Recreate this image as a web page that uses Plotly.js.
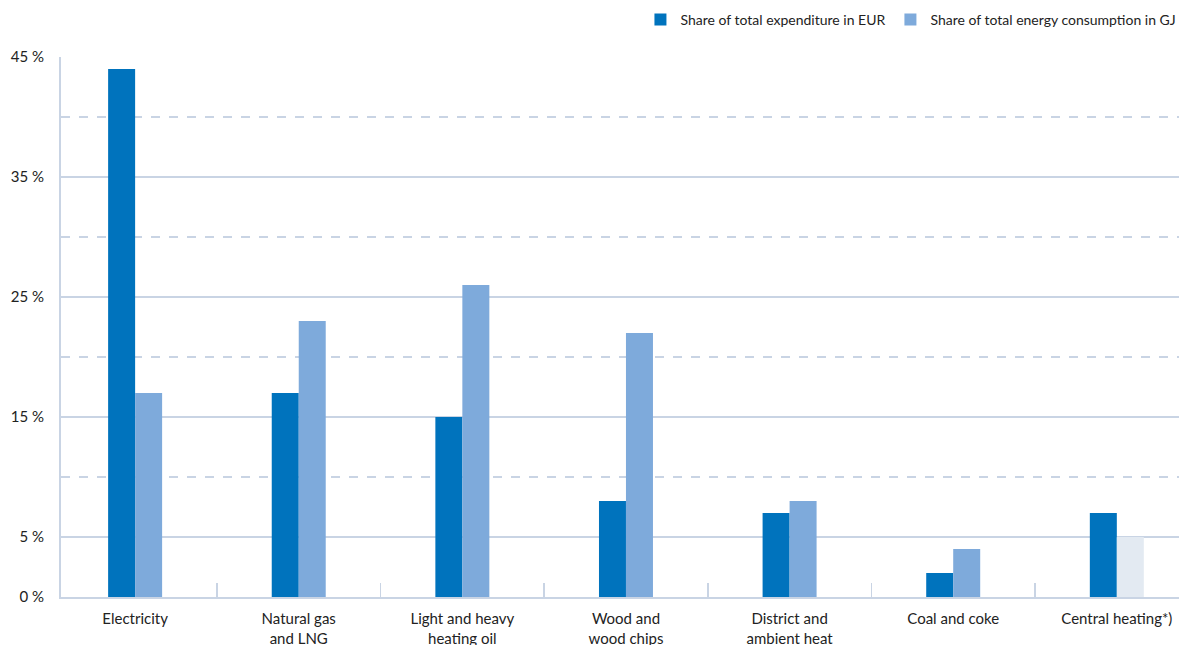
<!DOCTYPE html>
<html>
<head>
<meta charset="utf-8">
<script src="https://cdn.plot.ly/plotly-3.0.1.min.js"></script>
<style>html,body{margin:0;padding:0;background:#fff;}#chart{width:1185px;height:645px;}</style>
</head>
<body>
<div id="chart"></div>
<script>
const categories = ["Electricity", "Natural gas<br>and LNG", "Light and heavy<br>heating oil", "Wood and<br>wood chips", "District and<br>ambient heat", "Coal and coke", "Central heating*)"];
const expenditureShare = [44, 17, 15, 8, 7, 2, 7];
const energyShare = [17, 23, 26, 22, 8, 4, 5];
const energyColors = ["#7eaadb", "#7eaadb", "#7eaadb", "#7eaadb", "#7eaadb", "#7eaadb", "#e3eaf2"];
const yTickVals = [0, 5, 15, 25, 35, 45];
const yTickText = ["0 %", "5 %", "15 %", "25 %", "35 %", "45 %"];
const yMinorVals = [10, 20, 30, 40];

const gridColor = "#c9d4e4";
const font = "Lato, 'Open Sans', 'DejaVu Sans', sans-serif";

const traces = [
  {type: "bar", name: "Share of total expenditure in EUR", x: categories, y: expenditureShare,
   marker: {color: "#0073bd"}, hoverinfo: "none"},
  {type: "bar", name: "Share of total energy consumption in GJ", x: categories, y: energyShare,
   marker: {color: energyColors}, hoverinfo: "none"}
];

const layout = {
  width: 1185, height: 645,
  margin: {l: 61, r: 6, t: 57, b: 48, pad: 0},
  paper_bgcolor: "#fff", plot_bgcolor: "#fff",
  font: {family: font, size: 15, color: "#222"},
  barmode: "group", bargap: 0.67, bargroupgap: 0,
  showlegend: true,
  legend: {orientation: "h", xref: "container", yref: "container", x: 0.997, xanchor: "right",
           y: 1 - 20/645, yanchor: "middle",
           font: {size: 14, color: "#222"}, traceorder: "normal", itemwidth: 30},
  xaxis: {type: "category", range: [-0.453, 6.38], showgrid: false, zeroline: false,
          ticks: "inside", tickson: "boundaries", ticklen: 14, tickcolor: gridColor, tickwidth: 1.5,
          showline: true, linecolor: gridColor, linewidth: 2, ticklabelstandoff: 7,
          tickfont: {size: 15, color: "#222"}, automargin: false},
  yaxis: {range: [0, 45], tickmode: "array", tickvals: yTickVals, ticktext: yTickText,
          showgrid: true, gridcolor: gridColor, gridwidth: 1.2, zeroline: false,
          showline: true, linecolor: gridColor, linewidth: 2, ticks: "",
          ticklabelstandoff: 12,
          tickfont: {size: 15, color: "#222"}, automargin: false,
          minor: {tickmode: "array", tickvals: yMinorVals, showgrid: true, griddash: "dash",
                  gridcolor: gridColor, gridwidth: 1.2, ticks: ""}}
};

Plotly.newPlot("chart", traces, layout, {displayModeBar: false, staticPlot: true});
</script>
</body>
</html>
